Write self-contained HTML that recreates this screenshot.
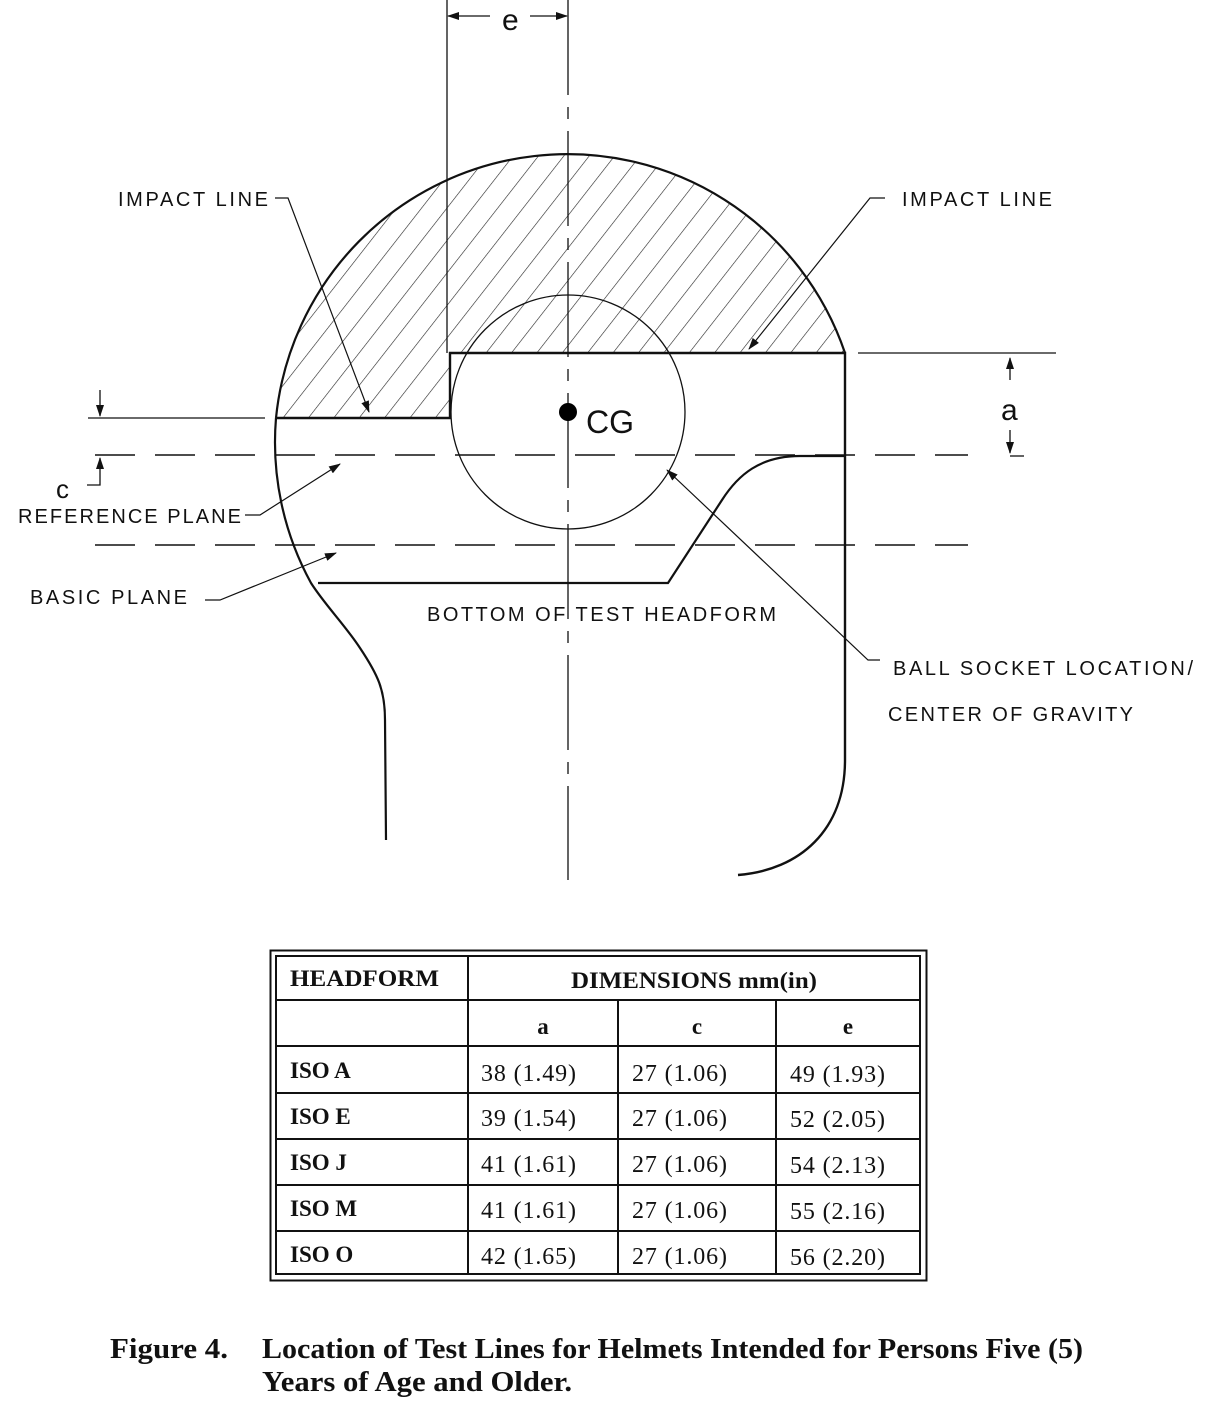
<!DOCTYPE html>
<html><head><meta charset="utf-8"><style>
body{margin:0;background:#fff;}
svg{display:block;}
.lbl{font-family:"Liberation Sans",sans-serif;font-size:20px;fill:#111;}
.tb{font-family:"Liberation Serif",serif;font-size:24px;fill:#111;}
.tbb{font-family:"Liberation Serif",serif;font-size:23px;font-weight:bold;fill:#111;}
.cap{font-family:"Liberation Serif",serif;font-size:28px;font-weight:bold;fill:#111;}
</style></head><body>
<svg width="1212" height="1412" viewBox="0 0 1212 1412">
<defs>
<pattern id="hatch" width="20" height="20" patternUnits="userSpaceOnUse" patternTransform="rotate(38)">
<line x1="0" y1="0" x2="0" y2="20" stroke="#222" stroke-width="1.2"/>
</pattern>
<clipPath id="hclip"><path d="M276 418 A293 293 0 0 1 845 353 L450 353 L450 418 Z"/></clipPath>
<marker id="arr" markerWidth="12" markerHeight="8" refX="11" refY="4" orient="auto" markerUnits="userSpaceOnUse"><path d="M0 0 L12 4 L0 8 Z" fill="#111"/></marker>
</defs>

<g fill="none" stroke="#111">
<rect x="250" y="130" width="620" height="300" fill="url(#hatch)" clip-path="url(#hclip)" stroke="none"/>
<path d="M276 418 A293 293 0 0 1 845 353" stroke-width="2.2"/>
<path d="M276 418 A293 293 0 0 0 311 583 C325 605 345 625 360 648 C378 675 385 690 385 720 L386 840" stroke-width="2.2"/>
<path d="M276 418 L450 418 L450 353 L845 353 L845 760 C845 830 800 870 738 875" stroke-width="2.4"/>
<path d="M845 456 L800 456 C760 456 738 475 722 500 L668 583 L318 583" stroke-width="2.2"/>
<circle cx="568" cy="412" r="117" stroke-width="1.3"/>
<line x1="568" y1="0" x2="568" y2="880" stroke-width="1.3" stroke-dasharray="95 12 12 12"/>
<line x1="447" y1="0" x2="447" y2="353" stroke-width="1.3"/>
<line x1="95" y1="455" x2="968" y2="455" stroke-width="1.5" stroke-dasharray="40 20"/>
<line x1="95" y1="545" x2="968" y2="545" stroke-width="1.5" stroke-dasharray="40 20"/>
<line x1="858" y1="353" x2="1056" y2="353" stroke-width="1.3"/>
<line x1="88" y1="418" x2="265" y2="418" stroke-width="1.3"/>
<line x1="490" y1="16" x2="448" y2="16" stroke-width="1.3" marker-end="url(#arr)"/>
<line x1="530" y1="16" x2="567" y2="16" stroke-width="1.3" marker-end="url(#arr)"/>
<line x1="1010" y1="380" x2="1010" y2="358" stroke-width="1.3" marker-end="url(#arr)"/>
<line x1="1010" y1="430" x2="1010" y2="453" stroke-width="1.3" marker-end="url(#arr)"/>
<line x1="1010" y1="456" x2="1024" y2="456" stroke-width="1.3"/>
<line x1="100" y1="390" x2="100" y2="416" stroke-width="1.3" marker-end="url(#arr)"/>
<path d="M87 485 L100 485 L100 458" stroke-width="1.3" marker-end="url(#arr)"/>
<path d="M275 198 L288 198 L369 412" stroke-width="1.2" marker-end="url(#arr)"/>
<path d="M885 198 L870 198 L749 349" stroke-width="1.2" marker-end="url(#arr)"/>
<path d="M245 515 L260 515 L340 464" stroke-width="1.2" marker-end="url(#arr)"/>
<path d="M205 600 L220 600 L336 553" stroke-width="1.2" marker-end="url(#arr)"/>
<path d="M880 660 L868 660 L667 470" stroke-width="1.2" marker-end="url(#arr)"/>
</g>
<circle cx="568" cy="412" r="9" fill="#000"/>

<g>
<text class="lbl" x="502" y="30" style="font-size:30px">e</text>
<text class="lbl" x="1001" y="420" style="font-size:30px">a</text>
<text class="lbl" x="56" y="498" style="font-size:26px">c</text>
<text class="lbl" x="586" y="433" style="font-size:32px">CG</text>
<text class="lbl" x="118" y="206" textLength="150">IMPACT LINE</text>
<text class="lbl" x="902" y="206" textLength="150">IMPACT LINE</text>
<text class="lbl" x="18" y="523" textLength="223">REFERENCE PLANE</text>
<text class="lbl" x="30" y="604" textLength="157">BASIC PLANE</text>
<text class="lbl" x="427" y="621" textLength="349">BOTTOM OF TEST HEADFORM</text>
<text class="lbl" x="893" y="675" textLength="300">BALL SOCKET LOCATION/</text>
<text class="lbl" x="888" y="721" textLength="245">CENTER OF GRAVITY</text>
</g>

<g stroke="#111" fill="none">
<rect x="270.5" y="950.5" width="656" height="330" stroke-width="2"/>
<rect x="276" y="956" width="644" height="318" stroke-width="2"/>
<line x1="468" y1="956" x2="468" y2="1274" stroke-width="2"/>
<line x1="618" y1="1000" x2="618" y2="1274" stroke-width="2"/>
<line x1="776" y1="1000" x2="776" y2="1274" stroke-width="2"/>
<line x1="276" y1="1000" x2="920" y2="1000" stroke-width="2"/>
<line x1="276" y1="1046" x2="920" y2="1046" stroke-width="2"/>
<line x1="276" y1="1093" x2="920" y2="1093" stroke-width="2"/>
<line x1="276" y1="1139" x2="920" y2="1139" stroke-width="2"/>
<line x1="276" y1="1185" x2="920" y2="1185" stroke-width="2"/>
<line x1="276" y1="1231" x2="920" y2="1231" stroke-width="2"/>
</g>
<g>
<text class="tbb" x="290" y="986" textLength="149" lengthAdjust="spacingAndGlyphs">HEADFORM</text>
<text class="tbb" x="571" y="988" textLength="246" lengthAdjust="spacingAndGlyphs">DIMENSIONS mm(in)</text>
<text class="tbb" x="543" y="1034" text-anchor="middle">a</text>
<text class="tbb" x="697" y="1034" text-anchor="middle">c</text>
<text class="tbb" x="848" y="1034" text-anchor="middle">e</text>
<text class="tbb" x="290" y="1078">ISO A</text><text class="tb" x="481" y="1081" textLength="95">38 (1.49)</text><text class="tb" x="632" y="1081" textLength="95">27 (1.06)</text><text class="tb" x="790" y="1082" textLength="95">49 (1.93)</text>
<text class="tbb" x="290" y="1124">ISO E</text><text class="tb" x="481" y="1126" textLength="95">39 (1.54)</text><text class="tb" x="632" y="1126" textLength="95">27 (1.06)</text><text class="tb" x="790" y="1127" textLength="95">52 (2.05)</text>
<text class="tbb" x="290" y="1170">ISO J</text><text class="tb" x="481" y="1172" textLength="95">41 (1.61)</text><text class="tb" x="632" y="1172" textLength="95">27 (1.06)</text><text class="tb" x="790" y="1173" textLength="95">54 (2.13)</text>
<text class="tbb" x="290" y="1216">ISO M</text><text class="tb" x="481" y="1218" textLength="95">41 (1.61)</text><text class="tb" x="632" y="1218" textLength="95">27 (1.06)</text><text class="tb" x="790" y="1219" textLength="95">55 (2.16)</text>
<text class="tbb" x="290" y="1262">ISO O</text><text class="tb" x="481" y="1264" textLength="95">42 (1.65)</text><text class="tb" x="632" y="1264" textLength="95">27 (1.06)</text><text class="tb" x="790" y="1265" textLength="95">56 (2.20)</text>
</g>

<g>
<text class="cap" x="110" y="1358" textLength="118" lengthAdjust="spacingAndGlyphs">Figure 4.</text>
<text class="cap" x="262" y="1358" textLength="821" lengthAdjust="spacingAndGlyphs">Location of Test Lines for Helmets Intended for Persons Five (5)</text>
<text class="cap" x="262" y="1391" textLength="310" lengthAdjust="spacingAndGlyphs">Years of Age and Older.</text>
</g>
</svg>
</body></html>
